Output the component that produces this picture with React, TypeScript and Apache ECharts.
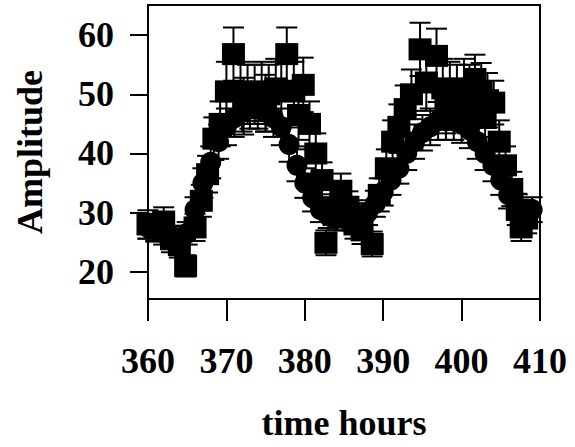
import React, { useEffect, useRef } from "react";
import * as echarts from "echarts";

// Square series (noisy measurements)
const sqTime = [360, 361, 362, 363, 364, 364.8, 366, 366.8, 367.6, 368.4, 369.2, 370, 370.9, 371.8, 372.2, 372.7, 373.6, 374.5, 375.0, 375.4, 376.3, 377, 377.7, 378.6, 379.2, 379.8, 380.6, 381.4, 382.2, 382.7, 383.6, 384.6, 385.5, 386.4, 387.3, 388.6, 389.5, 390.4, 391.2, 392, 392.8, 393.6, 394.7, 395.5, 396.8, 397.6, 398.0, 398.5, 399.4, 400.3, 400.8, 401, 401.7, 402.5, 403.0, 403.3, 404.1, 404.8, 405.6, 406.4, 407.1, 407.6, 408.3];
const sqAmp = [28, 27.5, 28.5, 25.5, 24.5, 21, 27.5, 32, 36.5, 42.5, 45, 50.5, 56.8, 50.5, 48, 50, 50, 50.5, 48.5, 50, 51, 50.5, 56.8, 50.5, 46.5, 51.6, 45, 40, 35.5, 24.9, 30.5, 33.7, 31, 28, 27, 24.7, 33, 37.5, 42, 44.5, 47.5, 50, 57.6, 52, 56.5, 51, 48, 50.5, 50, 51, 48, 50, 52.6, 50.5, 46, 49, 48.6, 42, 38, 34, 30.5, 27.5, 29];
const sqErr = [2.4, 2.3, 2.4, 2.2, 2.1, 1.8, 2.3, 2.7, 3.1, 3.6, 3.8, 5.0, 4.5, 5.0, 4.8, 5.0, 5.0, 5.0, 4.8, 5.0, 5.0, 5.0, 4.5, 5.0, 4.2, 4.6, 3.8, 3.4, 3.0, 2.1, 2.6, 2.9, 2.6, 2.4, 2.3, 2.1, 2.8, 3.2, 3.6, 3.8, 4.0, 4.2, 4.5, 4.8, 4.6, 5.0, 4.6, 5.0, 5.0, 5.0, 4.6, 5.0, 4.1, 4.8, 4.3, 4.6, 3.7, 3.6, 3.2, 2.9, 2.6, 2.3, 2.5];

// Circle series (smooth curve)
const ciTime = [360, 361, 362, 363, 364, 365, 366, 367, 368, 369, 370, 371, 372, 373, 374, 375, 376, 377, 378, 379, 380, 381, 382, 383, 384, 385, 386, 387, 388, 389, 390, 391, 392, 393, 394, 395, 396, 397, 398, 399, 400, 401, 402, 403, 404, 405, 406, 407, 408, 409];
const ciAmp = [27.5, 27, 26.5, 26, 25.5, 26.5, 30.5, 35, 38.5, 42, 44.5, 46, 47, 47.5, 47.5, 47, 46, 44.5, 41.5, 38, 35, 32.5, 30.5, 29.5, 29, 29, 29, 29.5, 30, 31.5, 33.5, 35.5, 37.5, 40, 42, 43.5, 44.5, 45.5, 45.5, 45.5, 45, 44, 42, 40, 38, 35.5, 33, 31, 30, 30.5];
const ciErr = [1.9, 1.9, 1.9, 1.8, 1.8, 1.9, 2.1, 2.5, 2.7, 2.9, 3.1, 3.2, 3.3, 3.3, 3.3, 3.3, 3.2, 3.1, 2.9, 2.7, 2.5, 2.3, 2.1, 2.1, 2.0, 2.0, 2.0, 2.1, 2.1, 2.2, 2.3, 2.5, 2.6, 2.8, 2.9, 3.0, 3.1, 3.2, 3.2, 3.2, 3.2, 3.1, 2.9, 2.8, 2.7, 2.5, 2.3, 2.2, 2.1, 2.1];

const xTicks = [360, 370, 380, 390, 400, 410];
const yTicks = [20, 30, 40, 50, 60];

const FONT = "'Liberation Serif', 'Times New Roman', serif";

function errorBarSeries(time: number[], amp: number[], err: number[]) {
  const data = time.map((t, i) => [t, amp[i] - err[i], amp[i] + err[i]]);
  return {
    type: "custom",
    z: 1,
    data,
    renderItem: (params: any, api: any) => {
      const x = api.value(0);
      const lo = api.coord([x, api.value(1)]);
      const hi = api.coord([x, api.value(2)]);
      const w = 10.5;
      const style = { stroke: "#000", lineWidth: 2 };
      return {
        type: "group",
        children: [
          { type: "line", shape: { x1: lo[0], y1: lo[1], x2: hi[0], y2: hi[1] }, style },
          { type: "line", shape: { x1: hi[0] - w, y1: hi[1], x2: hi[0] + w, y2: hi[1] }, style },
          { type: "line", shape: { x1: lo[0] - w, y1: lo[1], x2: lo[0] + w, y2: lo[1] }, style },
        ],
      };
    },
  };
}

export default function App() {
  const ref = useRef<HTMLDivElement>(null);
  useEffect(() => {
    if (!ref.current) return;
    const chart = echarts.init(ref.current, null, { renderer: "svg" });
    const labelStyle = { fontFamily: FONT, fontWeight: "bold", fontSize: 36, color: "#000" };
    chart.setOption({
      animation: false,
      backgroundColor: "#fff",
      grid: {
        left: 148,
        top: 5,
        right: 35,
        bottom: 148,
        show: true,
        borderColor: "#000",
        borderWidth: 2,
        backgroundColor: "transparent",
      },
      xAxis: {
        type: "value",
        min: 360,
        max: 410,
        interval: 10,
        name: "time hours",
        nameLocation: "middle",
        nameGap: 106,
        nameTextStyle: { ...labelStyle },
        axisLine: { show: true, onZero: false, lineStyle: { color: "#000", width: 2 } },
        axisTick: { show: true, length: 22, lineStyle: { color: "#000", width: 2 }, customValues: xTicks },
        axisLabel: { ...labelStyle, margin: 44, customValues: xTicks },
        splitLine: { show: false },
      },
      yAxis: {
        type: "value",
        min: 15.4,
        max: 65.1,
        name: "Amplitude",
        nameLocation: "middle",
        nameRotate: 90,
        nameGap: 100,
        nameTextStyle: { ...labelStyle },
        axisLine: { show: true, onZero: false, lineStyle: { color: "#000", width: 2 } },
        axisTick: { show: true, length: 18, lineStyle: { color: "#000", width: 2 }, customValues: yTicks },
        axisLabel: { ...labelStyle, margin: 34, customValues: yTicks },
        splitLine: { show: false },
      },
      series: [
        errorBarSeries(ciTime, ciAmp, ciErr),
        errorBarSeries(sqTime, sqAmp, sqErr),
        {
          type: "scatter",
          z: 2,
          symbol: "circle",
          symbolSize: 21,
          itemStyle: { color: "#000", opacity: 1 },
          data: ciTime.map((t, i) => [t, ciAmp[i]]),
        },
        {
          type: "scatter",
          z: 3,
          symbol: "rect",
          symbolSize: [23, 22],
          itemStyle: { color: "#000", opacity: 1 },
          data: sqTime.map((t, i) => [t, sqAmp[i]]),
        },
      ],
    });
    return () => chart.dispose();
  }, []);
  return (
    <div
      ref={ref}
      style={{ position: "fixed", left: 0, top: 0, width: 575, height: 447, background: "#fff" }}
    />
  );
}
